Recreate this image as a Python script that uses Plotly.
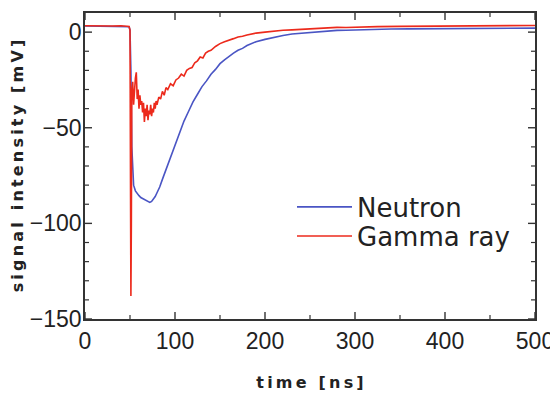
import plotly.graph_objects as go

# ---- data ----
t_neutron = [0, 10, 20, 30, 40, 48, 49, 50, 51, 52, 53, 54, 56, 58, 60, 62, 64, 66, 68, 70, 72, 74,
             76, 78, 80, 83, 86, 90, 94, 98, 102, 106, 110, 115, 120, 125, 130, 135, 140, 145, 150,
             155, 160, 165, 170, 175, 180, 190, 200, 210, 220, 230, 240, 250, 260, 270, 280, 290,
             300, 320, 340, 360, 380, 400, 420, 440, 460, 480, 500]
v_neutron = [3.2, 3.1, 3.2, 3.0, 3.1, 3.0, 2.8, 1.0, -20, -60, -75, -80, -83, -84.5, -85.5, -86.5,
             -87, -87.5, -88, -88.5, -89, -88.5, -87.5, -86, -84, -81, -77, -72, -66.5, -61, -56,
             -51, -46.5, -41.5, -36.5, -32.5, -28.5, -25.5, -22, -19.5, -16.5, -14.5, -12.5, -11,
             -9.5, -8.5, -7, -5, -3.8, -2.6, -1.8, -1.0, -0.6, -0.2, 0.3, 0.5, 0.9, 1.0, 1.2, 1.4,
             1.6, 1.7, 1.8, 1.8, 2.0, 1.9, 2.1, 2.0, 2.1]

t_gamma = [0, 10, 20, 30, 40, 48, 49, 50, 50.5, 51, 51.5, 52, 53, 54, 55, 56, 57, 58, 59, 60, 61,
           62, 63, 64, 65, 66, 67, 68, 69, 70, 71, 72, 73, 74, 75, 76, 77, 78, 79, 80, 82, 84, 86,
           88, 90, 92, 95, 98, 101, 104, 107, 110, 113, 116, 119, 122, 125, 128, 131, 134, 137,
           140, 145, 150, 155, 160, 165, 170, 175, 180, 190, 200, 210, 220, 230, 240, 250, 260,
           270, 280, 290, 300, 325, 350, 375, 400, 425, 450, 475, 500]
v_gamma = [3.3, 3.2, 3.4, 3.2, 3.3, 3.2, 3.0, 1.0, -60, -138, -100, -30, -26, -38, -30, -24, -21,
           -35, -30, -40, -33, -38, -36, -42, -37, -47, -40, -44, -38, -46, -41, -43, -38, -44, -40,
           -42, -37, -40, -36, -38, -34, -35, -31, -33, -29, -30, -27, -28, -25, -24, -22, -23,
           -20, -19, -18.5, -16, -15, -13, -13.5, -11, -10, -9.5, -7.5, -6, -5, -4, -3.4, -2.5,
           -2.2, -1.5, -0.5, 0.0, 0.6, 1.0, 1.2, 1.5, 1.7, 2.0, 2.2, 2.5, 2.4, 2.6, 2.9, 3.0,
           3.1, 3.0, 3.2, 3.2, 3.3, 3.5]

x_range = [0, 500]
y_range = [-150, 10]
x_ticks = [0, 100, 200, 300, 400, 500]
y_ticks = [-150, -100, -50, 0]
x_minor_ticks = [50, 150, 250, 350, 450]
y_minor_ticks = [-140, -130, -120, -110, -90, -80, -70, -60, -40, -30, -20, -10]

BLUE = "#4a55c4"
RED = "#ec2a1c"
AX = "#333333"
FONT = "Liberation Sans, Arial, sans-serif"
TFONT = "DejaVu Sans, sans-serif"

fig = go.Figure()
fig.add_trace(go.Scatter(x=t_neutron, y=v_neutron, mode="lines", name="Neutron",
                         line=dict(color=BLUE, width=1.6), legend="legend"))
fig.add_trace(go.Scatter(x=t_gamma, y=v_gamma, mode="lines", name="Gamma ray",
                         line=dict(color=RED, width=1.6), legend="legend2"))

# main axes: frame + labels + titles
main_common = dict(showline=True, linecolor=AX, linewidth=1.6, mirror=True, ticks="",
                   showgrid=False, zeroline=False, automargin=False,
                   tickfont=dict(family=FONT, size=23, color="#222"))
fig.update_layout(
    xaxis=dict(range=x_range, tickmode="array", tickvals=x_ticks, ticklabelstandoff=1,
               title=dict(text="t\u2009i\u2009m\u2009e\u2009 \u2009[\u2009n\u2009s\u2009]",
                          font=dict(family=TFONT, size=16, color="#222", weight="bold"),
                          standoff=23),
               **main_common),
    yaxis=dict(range=y_range, tickmode="array", tickvals=y_ticks, ticklabelstandoff=-3,
               title=dict(text="s\u2009i\u2009g\u2009n\u2009a\u2009l\u2009 \u2009i\u2009n\u2009t\u2009e\u2009n\u2009s\u2009i\u2009t\u2009y\u2009 \u2009[\u2009m\u2009V\u2009]",
                          font=dict(family=TFONT, size=16, color="#222", weight="bold"),
                          standoff=3),
               **main_common),
)

# inward-pointing tick marks on all four sides, placed on the axes' own scales
def xtick(v, length, width):
    out = []
    for anchor, sign in ((0, 1), (1, -1)):
        out.append(dict(type="line", xref="x", x0=v, x1=v, yref="paper", ysizemode="pixel",
                        yanchor=anchor, y0=0, y1=sign * length,
                        line=dict(color=AX, width=width), layer="above"))
    return out

def ytick(v, length, width):
    out = []
    for anchor, sign in ((0, 1), (1, -1)):
        out.append(dict(type="line", yref="y", y0=v, y1=v, xref="paper", xsizemode="pixel",
                        xanchor=anchor, x0=0, x1=sign * length,
                        line=dict(color=AX, width=width), layer="above"))
    return out

shapes = []
for v in x_ticks:
    shapes += xtick(v, 7, 1.4)
for v in x_minor_ticks:
    shapes += xtick(v, 4, 1.2)
for v in y_ticks:
    shapes += ytick(v, 7, 1.4)
for v in y_minor_ticks:
    shapes += ytick(v, 4, 1.2)

leg_common = dict(xanchor="left", yanchor="middle", bgcolor="rgba(0,0,0,0)", borderwidth=0,
                  font=dict(family=TFONT, size=26, color="#222"), itemwidth=55)

fig.update_layout(
    width=558, height=401,
    margin=dict(l=77, r=31, t=5, b=90),
    paper_bgcolor="white", plot_bgcolor="white",
    shapes=shapes,
    showlegend=True,
    legend=dict(x=0.46, y=0.366, **leg_common),
    legend2=dict(x=0.46, y=0.271, **leg_common),
)

fig.write_html("out.html")
